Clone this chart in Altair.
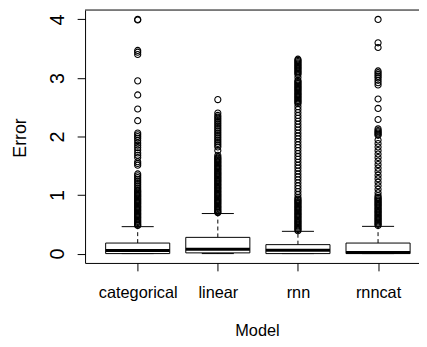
import altair as alt
import pandas as pd

models = ["categorical", "linear", "rnn", "rnncat"]
positions = [1, 2, 3, 4]
lower_whisker = [0.0, 0.0, 0.0, 0.0]
q1_values = [0.0, 0.012, 0.0, 0.0]
median_values = [0.054, 0.075, 0.056, 0.02]
q3_values = [0.18, 0.277, 0.153, 0.18]
upper_whisker = [0.46, 0.684, 0.38, 0.465]

categorical_outliers = [
    4.00, 3.99, 3.47, 3.44, 3.40, 2.95, 2.71, 2.47, 2.27,
    2.06, 2.03, 2.00, 1.97, 1.93, 1.89, 1.85, 1.81, 1.77, 1.72, 1.68, 1.64,
    1.57, 1.54, 1.51, 1.36, 1.33, 1.30, 1.27, 1.24, 1.21, 1.18, 1.15, 1.12,
    1.09, 1.07, 1.05, 1.03, 1.01, 0.99, 0.97, 0.95, 0.93, 0.91, 0.89, 0.87,
    0.85, 0.83, 0.81, 0.79, 0.77, 0.75, 0.73, 0.71, 0.69, 0.67, 0.65, 0.63,
    0.61, 0.59, 0.57, 0.55, 0.53, 0.51, 0.49, 0.48,
]
linear_outliers = [
    2.63, 2.40, 2.36, 2.33, 2.30, 2.27, 2.24, 2.21, 2.18, 2.15, 2.12, 2.09,
    2.06, 2.03, 2.00, 1.97, 1.94, 1.91, 1.88, 1.85, 1.82, 1.76, 1.68,
    1.65, 1.63, 1.61, 1.59, 1.57, 1.55, 1.53, 1.51, 1.49, 1.47, 1.45, 1.43,
    1.41, 1.39, 1.37, 1.35, 1.33, 1.31, 1.29, 1.27, 1.25, 1.23, 1.21, 1.19,
    1.17, 1.15, 1.13, 1.11, 1.09, 1.07, 1.05, 1.03, 1.01, 0.99, 0.97, 0.95,
    0.93, 0.91, 0.89, 0.87, 0.85, 0.83, 0.81, 0.79, 0.77, 0.75, 0.73, 0.71,
    0.70,
]
rnn_outliers = [
    3.32, 3.30, 3.28, 3.26, 3.24, 3.22, 3.20, 3.18, 3.16, 3.14, 3.12, 3.10,
    3.08, 3.06, 3.01,
    2.96, 2.94, 2.92, 2.90, 2.88, 2.86, 2.84, 2.82, 2.80, 2.78, 2.76, 2.74,
    2.72, 2.70, 2.68, 2.66, 2.64, 2.62, 2.60, 2.58, 2.56,
    2.51, 2.46, 2.41, 2.36, 2.31, 2.26, 2.21, 2.16, 2.11, 2.06, 2.01, 1.96,
    1.91, 1.86, 1.81, 1.76, 1.71, 1.66, 1.61, 1.56, 1.51, 1.46, 1.41, 1.36,
    1.31, 1.26, 1.21, 1.16, 1.11, 1.06, 1.01, 0.96,
    0.93, 0.91, 0.89, 0.87, 0.85, 0.83, 0.81, 0.79, 0.77, 0.75, 0.73, 0.71,
    0.69, 0.67, 0.65, 0.63, 0.61, 0.59, 0.57, 0.55, 0.53, 0.51, 0.49, 0.47,
    0.45, 0.43, 0.41, 0.39,
]
rnncat_outliers = [
    4.00, 3.60, 3.52, 3.12, 3.09, 3.06, 3.03, 3.00, 2.96, 2.92, 2.88, 2.64,
    2.48, 2.29, 2.13, 2.10, 2.08, 2.06, 2.04, 2.02, 1.94, 1.88, 1.82, 1.76,
    1.70, 1.64, 1.58, 1.52, 1.46, 1.40, 1.34, 1.28, 1.22, 1.16, 1.10, 1.04,
    0.99, 0.96, 0.94, 0.92, 0.90, 0.88, 0.86, 0.84, 0.82, 0.80, 0.78, 0.76,
    0.74, 0.72, 0.70, 0.68, 0.66, 0.64, 0.62, 0.60, 0.58, 0.56, 0.54, 0.52,
    0.50, 0.48,
]
y_ticks = [0, 1, 2, 3, 4]

summary = pd.DataFrame({
    "model": models, "pos": positions, "lo": lower_whisker, "q1": q1_values,
    "med": median_values, "q3": q3_values, "hi": upper_whisker,
})
outlier_lists = [categorical_outliers, linear_outliers, rnn_outliers, rnncat_outliers]
out_rows = []
for m, p, vals in zip(models, positions, outlier_lists):
    for v in vals:
        out_rows.append({"model": m, "pos": p, "err": v})
outliers = pd.DataFrame(out_rows)

W, H = 338, 256
FONT = "Liberation Sans"
label_expr = "[" + ",".join("'" + m + "'" for m in models) + "][datum.value - 1]"

xscale = alt.Scale(domain=[0.343, 4.511], nice=False, zero=False)
yscale = alt.Scale(domain=[-0.16, 4.16], nice=False, zero=False)
xaxis = alt.Axis(values=positions, labelExpr=label_expr, title="Model",
                 grid=False, tickSize=8, labelPadding=27, labelBaseline="alphabetic",
                 labelFont=FONT, labelFontSize=16.5,
                 titleFont=FONT, titleFontSize=16.5,
                 titleFontWeight="normal", titleX=174, titleY=73,
                 titleBaseline="alphabetic", titleAlign="center")
yaxis = alt.Axis(values=y_ticks, format="d", title="Error", grid=False,
                 tickSize=8, labelAngle=270, labelAlign="center",
                 labelBaseline="bottom", labelPadding=10,
                 labelFont=FONT, labelFontSize=20,
                 titleFont=FONT, titleFontSize=18,
                 titleFontWeight="normal", titleAngle=270, titleX=-60, titleY=129,
                 titleBaseline="alphabetic", titleAlign="center")


def X(field):
    return alt.X(field, type="quantitative", scale=xscale, axis=xaxis)


def Y(field):
    return alt.Y(field, type="quantitative", scale=yscale, axis=yaxis)


base = alt.Chart(summary).transform_calculate(
    bl="datum.pos - 0.4", br="datum.pos + 0.4",
    cl="datum.pos - 0.2", cr="datum.pos + 0.2",
)

upper_w = base.mark_rule(color="black", strokeWidth=1, strokeDash=[4, 3]).encode(
    x=X("pos"), y=Y("q3"), y2="hi")
lower_w = base.mark_rule(color="black", strokeWidth=1, strokeDash=[4, 3]).encode(
    x=X("pos"), y=Y("lo"), y2="q1")
upper_cap = base.mark_rule(color="black", strokeWidth=1).encode(
    x=X("cl"), x2="cr", y=Y("hi"))
lower_cap = base.mark_rule(color="black", strokeWidth=1).encode(
    x=X("cl"), x2="cr", y=Y("lo"))
boxes = base.mark_rect(fill="white", stroke="black", strokeWidth=1).encode(
    x=X("bl"), x2="br", y=Y("q1"), y2="q3")
medians = base.mark_rule(color="black", strokeWidth=3).encode(
    x=X("bl"), x2="br", y=Y("med"))
points = alt.Chart(outliers).mark_point(
    shape="circle", filled=False, color="black", size=38, strokeWidth=1.1, opacity=1
).encode(x=X("pos"), y=Y("err"))
top_border = alt.Chart(pd.DataFrame({"a": [0]})).mark_rule(
    color="black", strokeWidth=1
).encode(x=alt.value(0), x2=alt.value(W), y=alt.value(0))

chart = alt.layer(
    upper_w, lower_w, upper_cap, lower_cap, boxes, medians, points, top_border
).properties(
    width=W, height=H, autosize="none",
    padding={"left": 78, "top": 0, "right": 0, "bottom": 82},
).configure_view(stroke=None).configure_axis(
    domainColor="black", tickColor="black", labelColor="black",
    titleColor="black", domainWidth=1, tickWidth=1,
)

chart.save("out.html", embed_options={"renderer": "svg", "actions": False})
